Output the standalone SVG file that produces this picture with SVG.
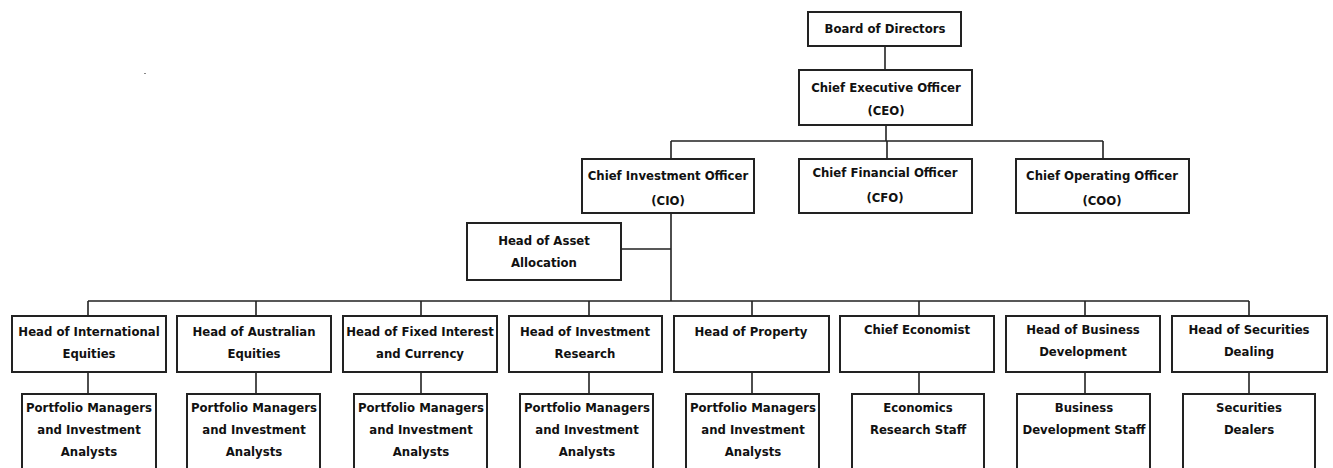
<svg xmlns="http://www.w3.org/2000/svg" width="1333" height="468" viewBox="0 0 1333 468">
<style>
.box{fill:#fff;stroke:#222;stroke-width:2}
.t{font-family:"DejaVu Sans Condensed","DejaVu Sans","Liberation Sans",sans-serif;font-weight:bold;font-size:13px;fill:#111;text-anchor:middle}
.c{fill:none;stroke:#222;stroke-width:1.6}
</style>
<rect width="1333" height="468" fill="#fff"/>
<rect x="144" y="73" width="2" height="1" fill="#888"/>
<g id="connectors">
<path class="c" d="M885 46V70"/>
<path class="c" d="M886 125V141M671 141H1103M671 141V159M887 141V159M1103 141V159"/>
<path class="c" d="M671 213V301M621 249H671"/>
<path class="c" d="M88 301H1249M88 301V316M256 301V316M421 301V316M589 301V316M752 301V316M919 301V316M1085 301V316M1249 301V316"/>
<path class="c" d="M88 372V394M256 372V394M421 372V394M589 372V394M752 372V394M919 372V394M1085 372V394M1249 372V394"/>
</g>
<g id="board"><rect class="box" x="808" y="12" width="153" height="34"/><text class="t" x="885" y="33">Board of Directors</text></g>
<g id="ceo"><rect class="box" x="799" y="70" width="173" height="55"/><text class="t" x="886" y="92">Chief Executive Officer</text><text class="t" x="886" y="115">(CEO)</text></g>
<g id="cio"><rect class="box" x="582" y="159" width="172" height="54"/><text class="t" x="668" y="180">Chief Investment Officer</text><text class="t" x="668" y="205">(CIO)</text></g>
<g id="cfo"><rect class="box" x="799" y="159" width="173" height="54"/><text class="t" x="885" y="177">Chief Financial Officer</text><text class="t" x="885" y="202">(CFO)</text></g>
<g id="coo"><rect class="box" x="1016" y="159" width="173" height="54"/><text class="t" x="1102" y="180">Chief Operating Officer</text><text class="t" x="1102" y="205">(COO)</text></g>
<g id="asset"><rect class="box" x="467" y="223" width="154" height="57"/><text class="t" x="544" y="245">Head of Asset</text><text class="t" x="544" y="267">Allocation</text></g>
<g id="intl"><rect class="box" x="12" y="316" width="154" height="56"/><text class="t" x="89" y="336">Head of International</text><text class="t" x="89" y="358">Equities</text></g>
<g id="aus"><rect class="box" x="177" y="316" width="154" height="56"/><text class="t" x="254" y="336">Head of Australian</text><text class="t" x="254" y="358">Equities</text></g>
<g id="fixed"><rect class="box" x="343" y="316" width="154" height="56"/><text class="t" x="420" y="336">Head of Fixed Interest</text><text class="t" x="420" y="358">and Currency</text></g>
<g id="invres"><rect class="box" x="509" y="316" width="153" height="56"/><text class="t" x="585" y="336">Head of Investment</text><text class="t" x="585" y="358">Research</text></g>
<g id="property"><rect class="box" x="674" y="316" width="155" height="56"/><text class="t" x="751" y="336">Head of Property</text></g>
<g id="econ"><rect class="box" x="840" y="316" width="154" height="56"/><text class="t" x="917" y="334">Chief Economist</text></g>
<g id="busdev"><rect class="box" x="1006" y="316" width="154" height="56"/><text class="t" x="1083" y="334">Head of Business</text><text class="t" x="1083" y="356">Development</text></g>
<g id="sec"><rect class="box" x="1172" y="316" width="155" height="56"/><text class="t" x="1249" y="334">Head of Securities</text><text class="t" x="1249" y="356">Dealing</text></g>
<g id="pm1"><rect class="box" x="22" y="394" width="134" height="90"/><text class="t" x="89" y="412">Portfolio Managers</text><text class="t" x="89" y="434">and Investment</text><text class="t" x="89" y="456">Analysts</text></g>
<g id="pm2"><rect class="box" x="187" y="394" width="133" height="90"/><text class="t" x="254" y="412">Portfolio Managers</text><text class="t" x="254" y="434">and Investment</text><text class="t" x="254" y="456">Analysts</text></g>
<g id="pm3"><rect class="box" x="354" y="394" width="133" height="90"/><text class="t" x="421" y="412">Portfolio Managers</text><text class="t" x="421" y="434">and Investment</text><text class="t" x="421" y="456">Analysts</text></g>
<g id="pm4"><rect class="box" x="520" y="394" width="133" height="90"/><text class="t" x="587" y="412">Portfolio Managers</text><text class="t" x="587" y="434">and Investment</text><text class="t" x="587" y="456">Analysts</text></g>
<g id="pm5"><rect class="box" x="686" y="394" width="133" height="90"/><text class="t" x="753" y="412">Portfolio Managers</text><text class="t" x="753" y="434">and Investment</text><text class="t" x="753" y="456">Analysts</text></g>
<g id="econstaff"><rect class="box" x="852" y="394" width="132" height="90"/><text class="t" x="918" y="412">Economics</text><text class="t" x="918" y="434">Research Staff</text></g>
<g id="busdevstaff"><rect class="box" x="1017" y="394" width="133" height="90"/><text class="t" x="1084" y="412">Business</text><text class="t" x="1084" y="434">Development Staff</text></g>
<g id="dealers"><rect class="box" x="1183" y="394" width="132" height="90"/><text class="t" x="1249" y="412">Securities</text><text class="t" x="1249" y="434">Dealers</text></g>
</svg>
